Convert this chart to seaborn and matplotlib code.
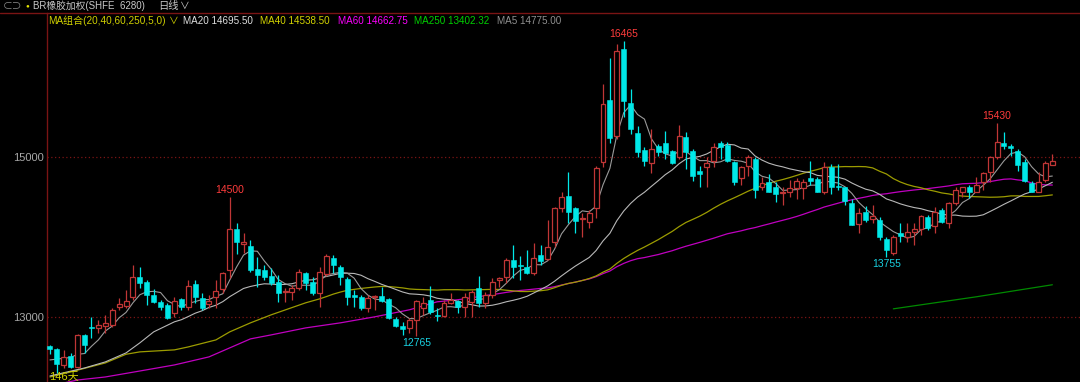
import matplotlib
matplotlib.use("Agg")
import matplotlib.pyplot as plt
from matplotlib.lines import Line2D
import numpy as np
import pandas as pd
import seaborn as sns

# ---------------- data ----------------
opens = [12635, 12597, 12396, 12509, 12371, 12773, 12874, 12861, 12887, 12899,
         13126, 13138, 13251, 13503, 13440, 13277, 13188, 13151, 13050, 13226,
         13126, 13415, 13239, 13163, 13251, 13352, 13591, 14107, 13918, 13893,
         13604, 13591, 13516, 13440, 13305, 13314, 13365, 13553, 13440, 13302,
         13541, 13742, 13629, 13478, 13277, 13251, 13113, 13245, 13264, 13226,
         12975, 12887, 12861, 12962, 13113, 13214, 13020, 13012, 13176, 13201,
         13126, 13188, 13365, 13176, 13277, 13465, 13503, 13717, 13648, 13629,
         13553, 13780, 13729, 13943, 14371, 14522, 14371, 14225, 14195, 14371,
         14937, 15717, 15264, 16359, 15679, 15302, 15088, 14925, 15138, 15176,
         15075, 15000, 15252, 15075, 14824, 14874, 14950, 15176, 15151, 14937,
         14736, 14887, 14975, 14623, 14686, 14623, 14553, 14572, 14610, 14610,
         14736, 14723, 14560, 14874, 14642, 14623, 14434, 14170, 14321, 14233,
         14220, 13981, 13805, 14057, 14006, 14069, 14107, 14258, 14145, 14346,
         14182, 14434, 14572, 14635, 14560, 14686, 14811, 15000, 15176, 15138,
         15075, 14937, 14673, 14572, 14711, 14899]
closes = [12597, 12409, 12497, 12371, 12773, 12647, 12861, 12899, 12924, 13088,
          13163, 13201, 13503, 13428, 13277, 13188, 13126, 12987, 13201, 13126,
          13390, 13251, 13113, 13201, 13327, 13553, 14107, 13943, 13943, 13591,
          13528, 13503, 13428, 13302, 13320, 13365, 13566, 13428, 13302, 13566,
          13767, 13654, 13503, 13251, 13251, 13113, 13239, 13255, 13201, 12987,
          12887, 12849, 12962, 13201, 13176, 13063, 13005, 13176, 13214, 13126,
          13251, 13314, 13176, 13277, 13440, 13490, 13717, 13629, 13635, 13553,
          13742, 13704, 13880, 14371, 14509, 14321, 14207, 14240, 14308, 14862,
          15667, 15239, 16333, 15704, 15352, 15063, 14950, 15101, 15063, 15050,
          14925, 15264, 15063, 14761, 14786, 14925, 15126, 15126, 14950, 14686,
          14874, 15000, 14585, 14673, 14572, 14535, 14565, 14610, 14698, 14686,
          14698, 14572, 14874, 14623, 14630, 14459, 14157, 14308, 14220, 14270,
          14006, 13843, 14006, 14019, 14069, 14107, 14270, 14119, 14321, 14195,
          14434, 14597, 14623, 14572, 14660, 14799, 15000, 15189, 15138, 15113,
          14899, 14698, 14572, 14686, 14925, 14950]
highs = [12647, 12610, 12585, 12547, 12786, 12786, 13000, 12962, 13025, 13113,
         13239, 13339, 13654, 13629, 13465, 13352, 13214, 13176, 13251, 13239,
         13465, 13465, 13302, 13277, 13465, 13566, 14500, 14182, 14057, 13968,
         13755, 13654, 13616, 13528, 13365, 13402, 13604, 13566, 13503, 13629,
         13792, 13780, 13654, 13503, 13339, 13277, 13277, 13277, 13377, 13239,
         13000, 12937, 12987, 13214, 13251, 13390, 13113, 13214, 13302, 13214,
         13302, 13339, 13516, 13314, 13490, 13503, 13742, 13906, 13767, 13843,
         13931, 13906, 14220, 14384, 14572, 14811, 14384, 14308, 14346, 14887,
         15918, 16245, 16422, 16465, 15855, 15390, 15126, 15352, 15164, 15327,
         15088, 15403, 15315, 15101, 14887, 15000, 15176, 15201, 15189, 14950,
         14887, 15025, 15000, 14748, 14786, 14686, 14623, 14711, 14736, 14723,
         14950, 14748, 14937, 14912, 14912, 14635, 14472, 14371, 14396, 14409,
         14258, 14006, 14031, 14182, 14182, 14182, 14283, 14283, 14384, 14371,
         14446, 14635, 14635, 14660, 14748, 14811, 15013, 15430, 15315, 15164,
         15101, 14975, 14698, 14811, 14950, 15038]
lows = [12534, 12296, 12359, 12359, 12359, 12547, 12736, 12799, 12799, 12874,
        13088, 13113, 13214, 13365, 13151, 13176, 13088, 12975, 13000, 13088,
        13088, 13176, 13088, 13113, 13113, 13302, 13490, 13792, 13805, 13566,
        13377, 13465, 13402, 13188, 13188, 13214, 13339, 13339, 13277, 13126,
        13516, 13553, 13402, 13151, 13126, 13088, 13063, 13088, 13188, 12975,
        12874, 12773, 12799, 12765, 13025, 13038, 12949, 13000, 13163, 13050,
        13000, 13000, 13126, 13113, 13239, 13377, 13428, 13490, 13465, 13541,
        13528, 13654, 13717, 13880, 14321, 14182, 14057, 14006, 14119, 14245,
        14874, 15176, 15226, 15503, 15289, 15000, 14887, 14799, 15013, 14975,
        14912, 14975, 14849, 14698, 14635, 14635, 14874, 14975, 14937, 14660,
        14660, 14761, 14497, 14597, 14560, 14446, 14409, 14509, 14472, 14472,
        14660, 14560, 14535, 14535, 14597, 14409, 14157, 14057, 14195, 14182,
        13968, 13755, 13780, 13943, 13943, 13906, 14031, 14094, 14057, 14182,
        14119, 14409, 14509, 14497, 14560, 14597, 14686, 14975, 15101, 15013,
        14824, 14686, 14560, 14560, 14686, 14899]

# moving-average values read where history before the first bar is needed
ma5_early_idx = [0, 3]
ma5_early_val = [12459, 12490]
ma20_early_idx = [0, 5, 8, 11, 13, 15, 18]
ma20_early_val = [12258, 12358, 12434, 12547, 12673, 12811, 12937]
ma40_early_idx = [0, 3, 8, 11, 13, 18, 20, 24, 26, 29, 32, 37]
ma40_early_val = [12245, 12308, 12421, 12530, 12560, 12585, 12622, 12710, 12811, 12924, 13025, 13176]
ma60_early_idx = [0, 4, 8, 13, 18, 23, 26, 29, 32, 37, 42, 47, 52, 56]
ma60_early_val = [12132, 12207, 12245, 12320, 12396, 12497, 12610, 12723, 12773, 12861, 12924, 13000, 13088, 13188]
ma250_idx = [122, 134, 145]
ma250_val = [13100, 13251, 13402]

ytick_vals = [13000, 15000]
peak_labels = [(83, "16465"), (26, "14500"), (137, "15430")]
trough_labels = [(53, "12765"), (121, "13755")]

title_text = "BR橡胶加权(SHFE  6280)"
period_text = "日线"
ma_combo_text = "MA组合(20,40,60,250,5,0)"
legend_items = [("MA20 14695.50", "#e0e0e0", 183), ("MA40 14538.50", "#d4d400", 260),
                ("MA60 14662.75", "#ff00ff", 338), ("MA250 13402.32", "#00d000", 414),
                ("MA5 14775.00", "#909090", 497)]
days_text = "146天"

# ---------------- style ----------------
sns.set_theme(style="dark")
plt.rcParams['font.family'] = ['Liberation Sans', 'Noto Sans CJK SC', 'DejaVu Sans']

W, H = 1080, 382
fig = plt.figure(figsize=(W / 100, H / 100), dpi=100, facecolor='black')
ax = fig.add_axes([47 / W, 0, 1 - 47 / W, (H - 13) / H])
ax.set_facecolor('black')
ax.grid(False)

UP = '#c03636'
DN = '#00e8e8'
GRID = '#7a1414'

o = np.array(opens, float)
c = np.array(closes, float)
h = np.array(highs, float)
l = np.array(lows, float)
n = len(c)
idx = np.arange(n)
up = c >= o

# ---------------- moving averages ----------------
s = pd.Series(c)

def ma_line(win, e_idx, e_val):
    r = s.rolling(win).mean()
    xs = list(e_idx) + list(range(win - 1, n))
    ys = list(e_val) + list(r.iloc[win - 1:])
    return pd.DataFrame({"x": xs, "y": ys})

lines = [
    (ma_line(60, ma60_early_idx, ma60_early_val), "#c000c0", 0.9),
    (ma_line(40, ma40_early_idx, ma40_early_val), "#9c9c00", 0.9),
    (ma_line(20, ma20_early_idx, ma20_early_val), "#b8b8b8", 0.8),
    (ma_line(5, ma5_early_idx, ma5_early_val), "#9a9a9a", 0.8),
    (pd.DataFrame({"x": ma250_idx, "y": ma250_val}), "#008a00", 0.9),
]
for df, col, lw in lines:
    sns.lineplot(data=df, x="x", y="y", color=col, lw=lw, ax=ax, zorder=2,
                 estimator=None, sort=False)

# ---------------- candles ----------------
ax.vlines(idx[up], l[up], h[up], color=UP, lw=0.9, zorder=3)
ax.vlines(idx[~up], l[~up], h[~up], color=DN, lw=0.9, zorder=3)
mid = (o + c) / 2
bh = np.maximum(np.abs(c - o), 9)
bot = mid - bh / 2
ax.bar(idx[up], bh[up], bottom=bot[up], width=0.72, facecolor='black',
       edgecolor=UP, lw=0.9, zorder=4)
ax.bar(idx[~up], bh[~up], bottom=bot[~up], width=0.72, facecolor=DN,
       edgecolor=DN, lw=0.4, zorder=4)

# ---------------- annotations ----------------
for i, t in peak_labels:
    ax.annotate(t, (i, highs[i]), xytext=(0, 1.5), textcoords='offset points',
                ha='center', va='bottom', color='#ff3c3c', fontsize=7.5, zorder=5)
for i, t in trough_labels:
    ax.annotate(t, (i, lows[i]), xytext=(0, -1.5), textcoords='offset points',
                ha='center', va='top', color='#19d0e0', fontsize=7.5, zorder=5)

for v in ytick_vals:
    ax.axhline(v, color=GRID, lw=0.9, ls=(0, (1, 2)), zorder=1)

ax.set_xlim(-0.43, 149.0)
ax.set_ylim(12182, 16812)
ax.set_xticks([])
ax.set_yticks(ytick_vals)
ax.set_yticklabels([str(v) for v in ytick_vals])
ax.tick_params(axis='y', length=0, pad=2.5, labelsize=8, labelcolor='#a8a8a8')
ax.set_xlabel("")
ax.set_ylabel("")
for sp in ['top', 'right', 'bottom']:
    ax.spines[sp].set_visible(False)
ax.spines['left'].set_color(GRID)
ax.spines['left'].set_linewidth(1.0)

# ---------------- header ----------------
def px(x, y):
    return x / W, 1 - y / H

fig.add_artist(Line2D([0, 1], [1 - 12.7 / H] * 2, color=GRID, lw=1.0,
                      transform=fig.transFigure))

fig.text(*px(3, 6), "⊂⊃", color='#8a8a8a', fontsize=7, va='center', ha='left')
fig.text(*px(27, 6), "●", color='#e6e600', fontsize=4.5, va='center', ha='center')
fig.text(*px(33, 6), title_text, color='#c8c8c8', fontsize=7, va='center', ha='left')
fig.text(*px(158, 6), period_text, color='#c8c8c8', fontsize=7.4, va='center', ha='left')
fig.text(*px(180, 6), "∨", color='#c8c8c8', fontsize=7, va='center', ha='left')

fig.text(*px(48, 20.5), ma_combo_text, color='#d0d000', fontsize=7.2, va='center', ha='left')
fig.text(*px(169, 20.5), "∨", color='#d0d000', fontsize=7, va='center', ha='left')
for t, col, x in legend_items:
    fig.text(*px(x, 20.5), t, color=col, fontsize=7.1, va='center', ha='left')

fig.text(*px(49, 372), days_text, color='#d0d000', fontsize=8, va='top', ha='left')

fig.savefig('out.png', dpi=100, facecolor='black')
